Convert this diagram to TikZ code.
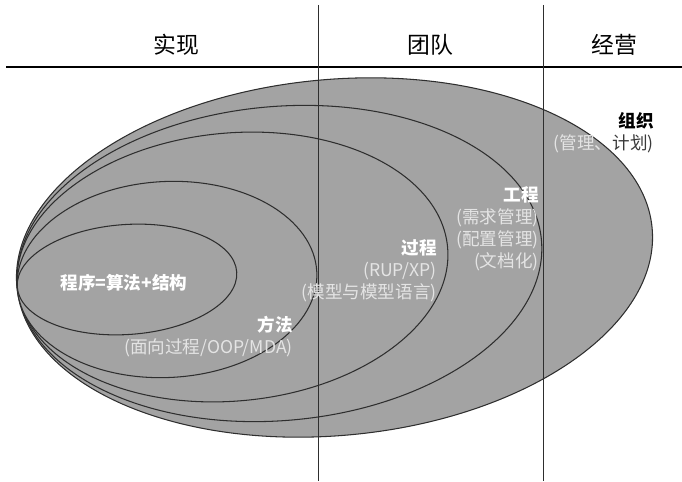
\documentclass[tikz,border=0pt]{standalone}
\usepackage{fontspec}
\newfontfamily\cjk{Noto Sans CJK SC}
\definecolor{fillgray}{HTML}{A3A3A3}
\definecolor{edgegray}{HTML}{2E2E2E}
\definecolor{notegray}{HTML}{E4E4E4}
\definecolor{darknote}{HTML}{3A3A3A}
\tikzset{
  ell/.style={fill=fillgray, draw=edgegray, line width=.6pt},
  divider/.style={draw=edgegray, line width=.5pt},
  head/.style={font=\cjk\fontsize{13}{15}\selectfont, inner sep=0pt},
  lbl/.style={font=\cjk\fontsize{10}{12.6}\selectfont, text=notegray, align=right, inner sep=0pt, anchor=east},
}
\begin{document}
\begin{tikzpicture}[x=.2mm, y=.2mm]
	\useasboundingbox (0,0) rectangle (682,481);
	% nested ellipses, outermost first
	\foreach \cx/\cy/\a/\b/\r in {334.5/223.5/319/178/5.3,
							279.5/217.5/263/157/5.1,
							232.5/214/216/134/5.3,
							167/201.5/150/98/2.9,
							127/201.5/110/55/3.9}
		\draw[ell, shift={(\cx,\cy)}, rotate=\r] (0,0) ellipse ({.2mm*\a} and {.2mm*\b});
	% header
	\draw[line width=1pt] (6,414) -- (682,414);
	\foreach \x in {318,543}
		\draw[divider] (\x,476) -- (\x,0);
	\foreach \x/\name [count=\i] in {176/实现,430/团队,614/经营}
		\node[head] (h\i) at (\x,436) {\name};
	% labels
	\node[lbl, anchor=center, text=white, font=\cjk\fontsize{10}{12.6}\selectfont\bfseries] (prog) at (124,198) {程序=算法+结构};
	\node[lbl] (fangfa) at (293,144.5) {{\bfseries\color{white}方法}\\(面向过程/OOP/MDA)};
	\node[lbl] (guocheng) at (437,210) {{\bfseries\color{white}过程}\\(RUP/XP)\\(模型与模型语言)};
	\node[lbl] (gongcheng) at (539,252.5) {{\bfseries\color{white}工程}\\(需求管理)\\(配置管理)\\(文档化)};
	\node[lbl] (zuzhi) at (654,348.5) {{\bfseries\color{black}组织}\\(管理、{\color{darknote}计划)}};
\end{tikzpicture}
\end{document}
